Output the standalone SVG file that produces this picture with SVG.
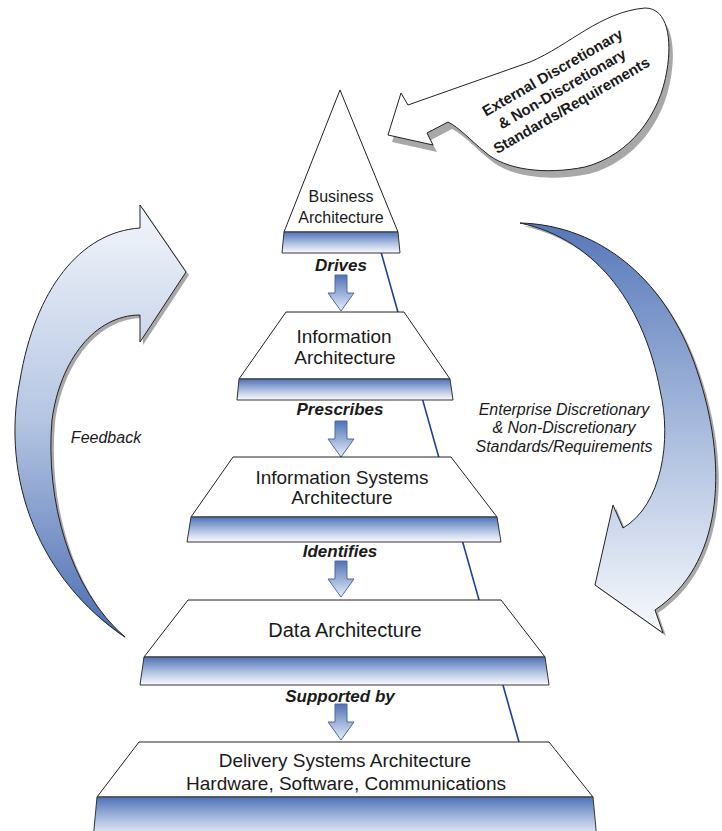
<svg xmlns="http://www.w3.org/2000/svg" width="722" height="831" viewBox="0 0 722 831">
<defs>
<linearGradient id="band" x1="0" y1="0" x2="0" y2="1">
<stop offset="0" stop-color="#4f72b6"/>
<stop offset="0.5" stop-color="#a9bcdf"/>
<stop offset="1" stop-color="#fbfcfe"/>
</linearGradient>
<linearGradient id="small" x1="0" y1="0" x2="0" y2="1">
<stop offset="0" stop-color="#4f72b6"/>
<stop offset="1" stop-color="#e6edf7"/>
</linearGradient>
<linearGradient id="leftG" gradientUnits="userSpaceOnUse" x1="0" y1="205" x2="0" y2="637">
<stop offset="0" stop-color="#f3f6fb"/>
<stop offset="0.5" stop-color="#b4c5e3"/>
<stop offset="1" stop-color="#4a6cb0"/>
</linearGradient>
<linearGradient id="rightG" gradientUnits="userSpaceOnUse" x1="0" y1="223" x2="0" y2="633">
<stop offset="0" stop-color="#5677b9"/>
<stop offset="0.5" stop-color="#a8bbdd"/>
<stop offset="1" stop-color="#f8fafd"/>
</linearGradient>
<path id="down" d="M-6,0 H6 V18 H13 L0,36 L-13,18 H-6 Z"/>
</defs>
<style>
.node{fill:#fff;stroke:#222;stroke-width:1}
.band{fill:url(#band);stroke:#333;stroke-width:1}
.t{font-family:"Liberation Sans",Arial,sans-serif;fill:#1a1a1a;text-anchor:middle}
.lbl{font-family:"Liberation Sans",Arial,sans-serif;font-weight:bold;font-style:italic;font-size:17px;fill:#1a1a1a;text-anchor:middle}
.it{font-family:"Liberation Sans",Arial,sans-serif;font-style:italic;font-size:16px;fill:#1a1a1a;text-anchor:middle}
.shadow{fill:#a8a8a8}
.big{stroke:#222;stroke-width:1}
.sarrow{fill:url(#small);stroke:#4a6aa5;stroke-width:1}
</style>
<rect width="722" height="831" fill="#fff"/>

<g id="connectors">
<line x1="381" y1="252" x2="519" y2="742" stroke="#1f3f99" stroke-width="1.6"/>
<use href="#down" class="sarrow" transform="translate(341,275)"/>
<use href="#down" class="sarrow" transform="translate(341,421)"/>
<use href="#down" class="sarrow" transform="translate(341,561)"/>
<use href="#down" class="sarrow" transform="translate(341,704)"/>
<text class="lbl" x="341" y="271">Drives</text>
<text class="lbl" x="340" y="415">Prescribes</text>
<text class="lbl" x="340" y="557">Identifies</text>
<text class="lbl" x="340" y="702">Supported by</text>
</g>

<g id="feedback">
<path class="shadow" transform="translate(3,3)" d="M125,637 C40,580 0,480 20,380 C35,290 80,232 140,228 L140,205 L186,272 L140,342 L140,315 C95,315 60,360 52,420 C45,500 70,590 125,637 Z"/>
<path class="big" fill="url(#leftG)" d="M125,637 C40,580 0,480 20,380 C35,290 80,232 140,228 L140,205 L186,272 L140,342 L140,315 C95,315 60,360 52,420 C45,500 70,590 125,637 Z"/>
<text class="it" x="106" y="443">Feedback</text>
</g>

<g id="enterprise">
<path class="shadow" transform="translate(3,3)" d="M520,223 C600,225 670,280 700,380 C728,470 722,565 655,610 L663,633 L595,585 L613,505 L623,528 C662,505 672,440 660,390 C645,310 600,240 520,223 Z"/>
<path class="big" fill="url(#rightG)" d="M520,223 C600,225 670,280 700,380 C728,470 722,565 655,610 L663,633 L595,585 L613,505 L623,528 C662,505 672,440 660,390 C645,310 600,240 520,223 Z"/>
<text class="it" x="564" y="415">Enterprise Discretionary</text>
<text class="it" x="564" y="433">&amp; Non-Discretionary</text>
<text class="it" x="564" y="452">Standards/Requirements</text>
</g>

<g id="external">
<path class="shadow" transform="translate(4,7)" d="M388,135 L401,93 L408,105 L530,62 C570,45 600,12 645,8 C668,8 672,40 667,70 C660,115 630,155 585,167 C545,175 505,170 485,152 C470,140 460,128 448,122 L427,133 L433,145 Z"/>
<path class="big" fill="#fff" d="M388,135 L401,93 L408,105 L530,62 C570,45 600,12 645,8 C668,8 672,40 667,70 C660,115 630,155 585,167 C545,175 505,170 485,152 C470,140 460,128 448,122 L427,133 L433,145 Z"/>
<g transform="translate(562,89) rotate(-30)">
<text class="t" font-weight="bold" font-size="15" x="0" y="-14">External Discretionary</text>
<text class="t" font-weight="bold" font-size="15" x="0" y="5">&amp; Non-Discretionary</text>
<text class="t" font-weight="bold" font-size="15" x="0" y="24">Standards/Requirements</text>
</g>
</g>

<g id="business">
<path class="node" d="M340,90 L398,232 L284,232 Z"/>
<path class="band" d="M284,232 H398 L400,253 H282 Z"/>
<text class="t" font-size="16" x="341" y="202">Business</text>
<text class="t" font-size="16" x="341" y="223">Architecture</text>
</g>

<g id="information">
<path class="node" d="M286,312 H404 L450,379 H239 Z"/>
<path class="band" d="M239,379 H450 L453,400 H237 Z"/>
<text class="t" font-size="19" x="344" y="343">Information</text>
<text class="t" font-size="19" x="345" y="364">Architecture</text>
</g>

<g id="infosystems">
<path class="node" d="M233,457 H451 L497,517 H191 Z"/>
<path class="band" d="M191,517 H497 L501,542 H187 Z"/>
<text class="t" font-size="19" x="342" y="484">Information Systems</text>
<text class="t" font-size="19" x="342" y="504">Architecture</text>
</g>

<g id="data">
<path class="node" d="M188,600 H501 L545,657 H144 Z"/>
<path class="band" d="M144,657 H545 L549,685 H140 Z"/>
<text class="t" font-size="20" x="345" y="637">Data Architecture</text>
</g>

<g id="delivery">
<path class="node" d="M139,742 H549 L593,797 H97 Z"/>
<path class="band" d="M97,797 H593 L597,840 H93 Z"/>
<text class="t" font-size="19" x="345" y="767">Delivery Systems Architecture</text>
<text class="t" font-size="19" x="346" y="790">Hardware, Software, Communications</text>
</g>
</svg>
